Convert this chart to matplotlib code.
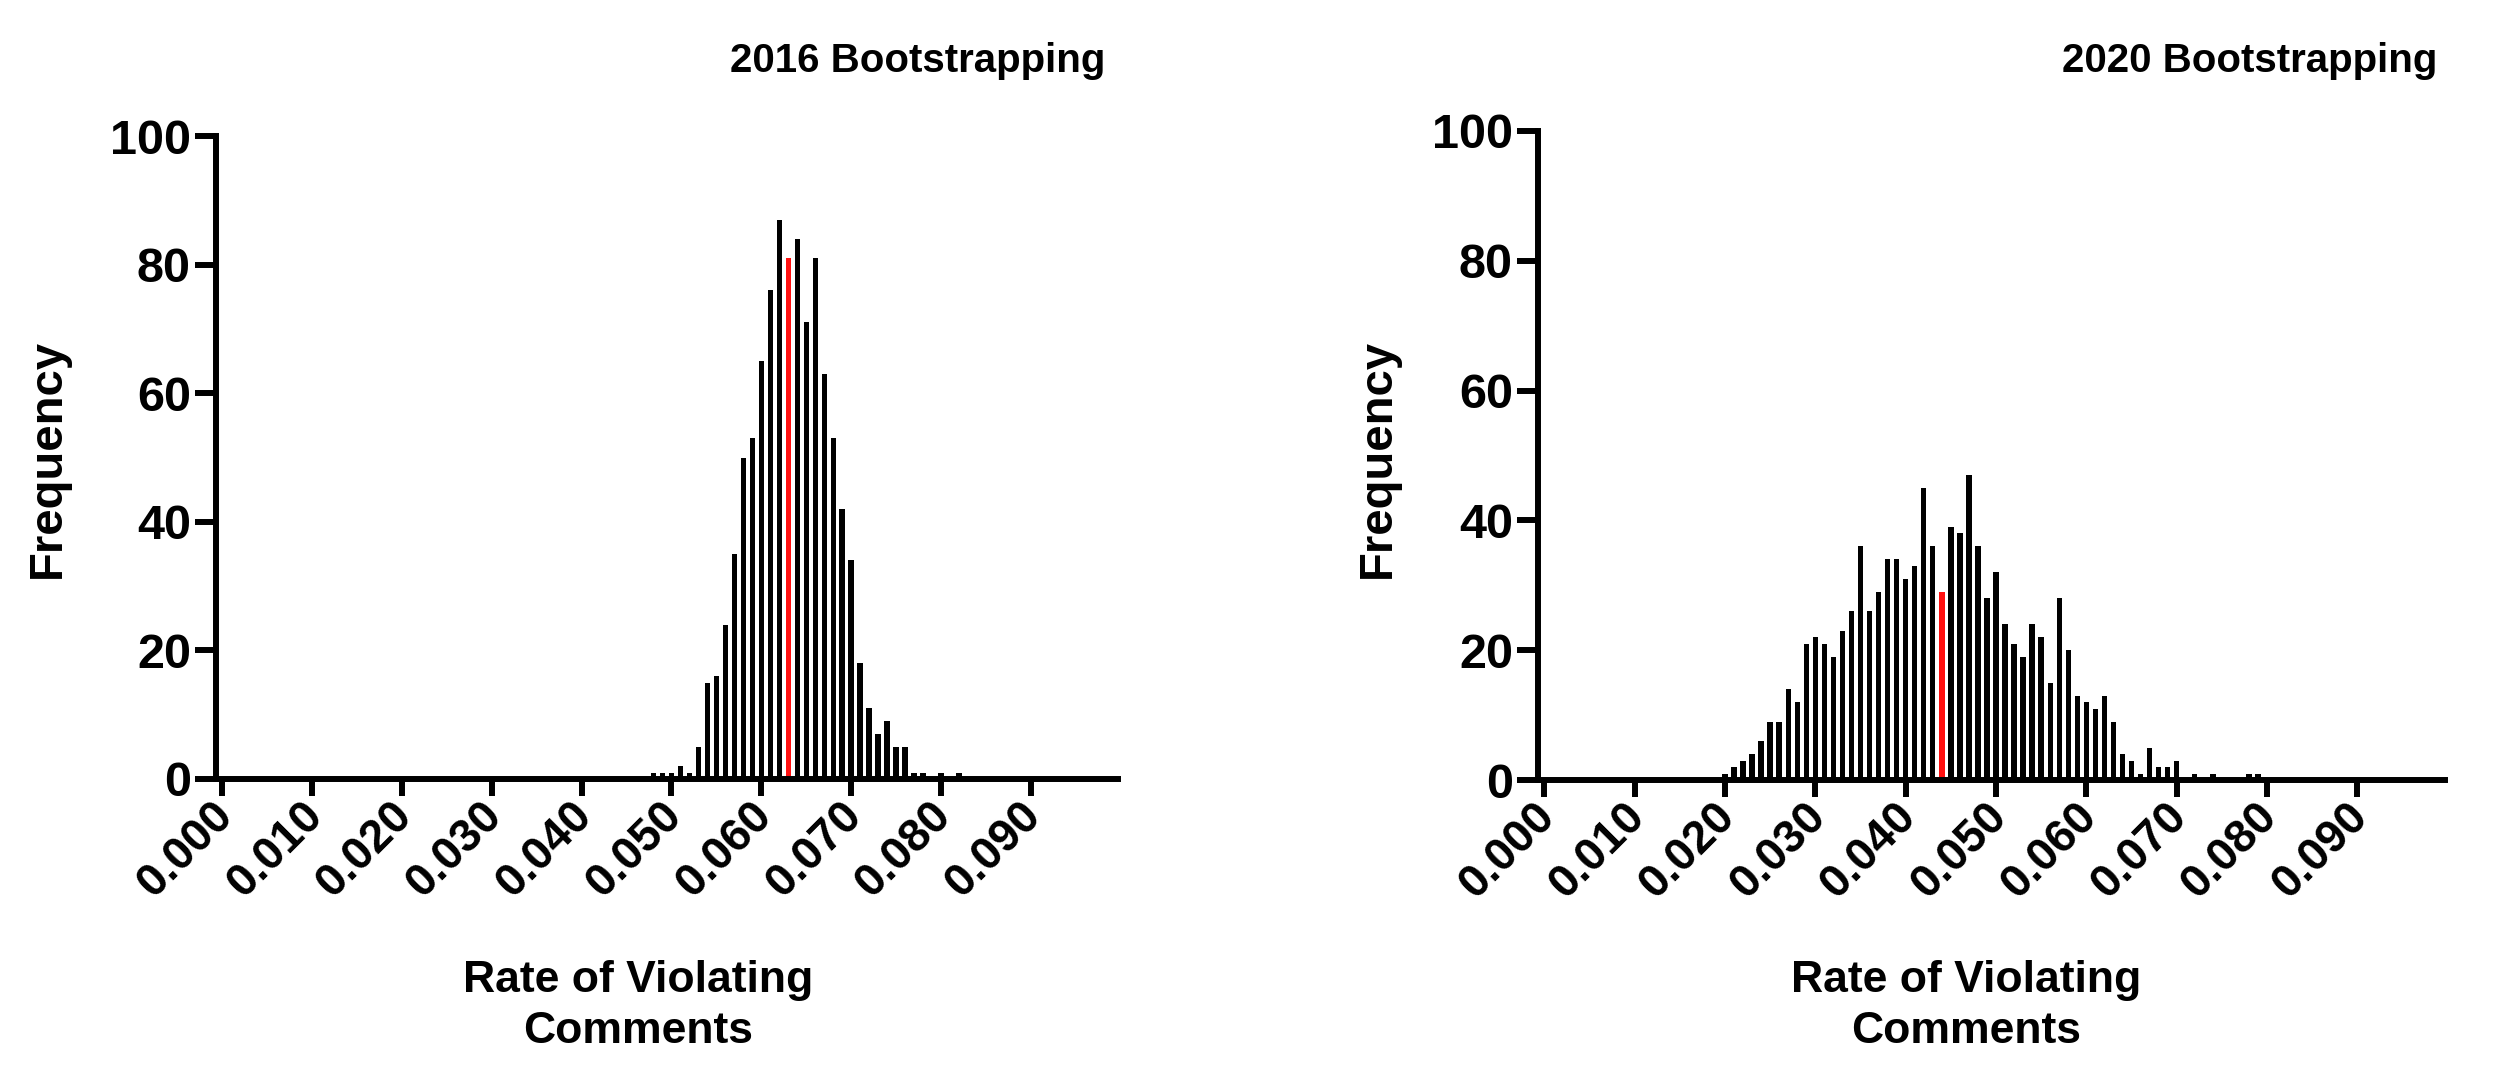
import matplotlib
matplotlib.use("Agg")
import matplotlib.pyplot as plt

# ---------------- data ----------------
rates_2016 = [0.048, 0.049, 0.050, 0.051, 0.052, 0.053, 0.054, 0.055, 0.056, 0.057,
              0.058, 0.059, 0.060, 0.061, 0.062, 0.063, 0.064, 0.065, 0.066, 0.067,
              0.068, 0.069, 0.070, 0.071, 0.072, 0.073, 0.074, 0.075, 0.076, 0.077,
              0.078, 0.079, 0.080, 0.081, 0.082]
freq_2016 = [1, 1, 1, 2, 1, 5, 15, 16, 24, 35,
             50, 53, 65, 76, 87, 81, 84, 71, 81, 63,
             53, 42, 34, 18, 11, 7, 9, 5, 5, 1,
             1, 0, 1, 0, 1]
highlight_2016 = 0.063

rates_2020 = [0.020, 0.021, 0.022, 0.023, 0.024, 0.025, 0.026, 0.027, 0.028, 0.029,
              0.030, 0.031, 0.032, 0.033, 0.034, 0.035, 0.036, 0.037, 0.038, 0.039,
              0.040, 0.041, 0.042, 0.043, 0.044, 0.045, 0.046, 0.047, 0.048, 0.049,
              0.050, 0.051, 0.052, 0.053, 0.054, 0.055, 0.056, 0.057, 0.058, 0.059,
              0.060, 0.061, 0.062, 0.063, 0.064, 0.065, 0.066, 0.067, 0.068, 0.069,
              0.070, 0.071, 0.072, 0.073, 0.074, 0.075, 0.076, 0.077, 0.078, 0.079]
freq_2020 = [1, 2, 3, 4, 6, 9, 9, 14, 12, 21,
             22, 21, 19, 23, 26, 36, 26, 29, 34, 34,
             31, 33, 45, 36, 29, 39, 38, 47, 36, 28,
             32, 24, 21, 19, 24, 22, 15, 28, 20, 13,
             12, 11, 13, 9, 4, 3, 1, 5, 2, 2,
             3, 0, 1, 0, 1, 0, 0, 0, 1, 1]
highlight_2020 = 0.044

x_ticks = [0.000, 0.010, 0.020, 0.030, 0.040, 0.050, 0.060, 0.070, 0.080, 0.090]
x_tick_labels = ["0.000", "0.010", "0.020", "0.030", "0.040",
                 "0.050", "0.060", "0.070", "0.080", "0.090"]
y_ticks = [0, 20, 40, 60, 80, 100]
titles = ["2016 Bootstrapping", "2020 Bootstrapping"]
x_label = "Rate of Violating\nComments"
y_label = "Frequency"

# ---------------- style ----------------
FONT = ["Liberation Sans", "Arial", "DejaVu Sans"]
plt.rcParams["font.family"] = FONT
plt.rcParams["font.weight"] = "bold"

W, H = 2500, 1069
fig = plt.figure(figsize=(W / 100, H / 100), dpi=100)

LW = 4.3
BLACK = "#000000"
RED = "#ff1010"


def px_axes(x0, x1, ytop, ybot):
    return [x0 / W, 1 - ybot / H, (x1 - x0) / W, (ybot - ytop) / H]


ax1 = fig.add_axes(px_axes(216, 1118, 136, 779))
ax2 = fig.add_axes(px_axes(1538, 2445, 131, 780))

panels = [
    (ax1, rates_2016, freq_2016, highlight_2016),
    (ax2, rates_2020, freq_2020, highlight_2020),
]

for ax, rates, freqs, hl in panels:
    colors = [RED if abs(r - hl) < 1e-9 else BLACK for r in rates]
    ax.bar(rates, freqs, width=0.0006, color=colors, linewidth=0, zorder=1)
    ax.set_xlim(-0.0007, 0.0997)
    ax.set_ylim(0, 100)
    for s in ["top", "right"]:
        ax.spines[s].set_visible(False)
    for s in ["left", "bottom"]:
        ax.spines[s].set_linewidth(LW)
        ax.spines[s].set_color(BLACK)
        ax.spines[s].set_capstyle("projecting")
    ax.set_xticks(x_ticks)
    ax.set_xticklabels(x_tick_labels, rotation=45, ha="right",
                       va="center_baseline", rotation_mode="anchor",
                       fontsize=33, fontweight="bold")
    ax.set_yticks(y_ticks)
    ax.set_yticklabels([str(v) for v in y_ticks], fontsize=35, fontweight="bold")
    ax.tick_params(axis="x", length=12, width=LW, pad=7, color=BLACK)
    ax.tick_params(axis="y", length=15, width=LW, pad=3, color=BLACK)
    ax.patch.set_visible(False)

# titles
fig.text(1105 / W, 1 - 72 / H, titles[0], ha="right", va="baseline",
         fontsize=29, fontweight="bold")
fig.text(2437 / W, 1 - 72 / H, titles[1], ha="right", va="baseline",
         fontsize=29, fontweight="bold")

# x labels
for cx in (638, 1966):
    fig.text(cx / W, 1 - 1006 / H, x_label, ha="center", va="center",
             multialignment="center", fontsize=32, fontweight="bold",
             linespacing=1.3)

# y labels
for cx in (48, 1378):
    fig.text(cx / W, 1 - 458 / H, y_label, ha="center", va="center",
             rotation=90, fontsize=34, fontweight="bold")

fig.savefig("out.png", dpi=100, facecolor="white")
